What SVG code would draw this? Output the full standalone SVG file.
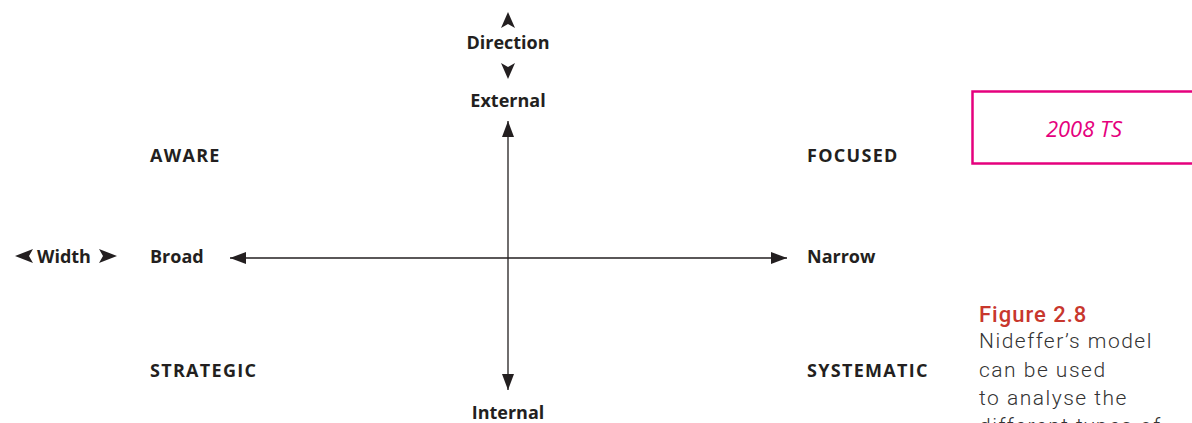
<svg xmlns="http://www.w3.org/2000/svg" width="1192" height="423" viewBox="0 0 1192 423">
<style>
.lbl{font-family:"Open Sans","Liberation Sans",sans-serif;font-weight:700;font-size:18px;fill:#231f20}
.caps{letter-spacing:1.3px}
.axis{stroke:#231f20;stroke-width:1.3;fill:none}
.head{fill:#231f20}
.cap{font-family:"Roboto","Liberation Sans",sans-serif;font-size:21px;font-weight:300;fill:#333;letter-spacing:1.5px}
</style>
<defs>
<marker id="ah" viewBox="0 0 16 12" refX="16" refY="6" markerWidth="16" markerHeight="12" markerUnits="userSpaceOnUse" orient="auto-start-reverse">
<path d="M0,0 L16,6 L0,12 Z" class="head"/>
</marker>
</defs>
<rect width="1192" height="423" fill="#fff"/>
<g id="connectors">
<line class="axis" x1="508" y1="121" x2="508" y2="390" marker-start="url(#ah)" marker-end="url(#ah)"/>
<line class="axis" x1="230" y1="258" x2="787" y2="258" marker-start="url(#ah)" marker-end="url(#ah)"/>
</g>
<g id="direction">
<path class="head" d="M508,12 L515,28 L508,24 L501,28 Z"/>
<text class="lbl" x="508" y="49" text-anchor="middle">Direction</text>
<path class="head" d="M508,79 L515,63 L508,67 L501,63 Z"/>
</g>
<g id="external"><text class="lbl" x="508" y="107" text-anchor="middle">External</text></g>
<g id="internal"><text class="lbl" x="508" y="419" text-anchor="middle">Internal</text></g>
<g id="width">
<path class="head" d="M15,256 L33,249 L29,256 L33,263 Z"/>
<text class="lbl" x="37" y="263">Width</text>
<path class="head" d="M117,256 L99,249 L103,256 L99,263 Z"/>
</g>
<g id="broad"><text class="lbl" x="150" y="263">Broad</text></g>
<g id="narrow"><text class="lbl" x="807" y="263">Narrow</text></g>
<g id="aware"><text class="lbl caps" x="150" y="162">AWARE</text></g>
<g id="focused"><text class="lbl caps" x="807" y="162">FOCUSED</text></g>
<g id="strategic"><text class="lbl caps" x="150" y="377">STRATEGIC</text></g>
<g id="systematic"><text class="lbl caps" x="807" y="377">SYSTEMATIC</text></g>
<g id="ts-box">
<rect x="972.5" y="91.5" width="240" height="72" fill="none" stroke="#e5007d" stroke-width="2.5"/>
<text x="1084" y="137" text-anchor="middle" font-family="'Open Sans','Liberation Sans',sans-serif" font-style="italic" font-size="22" fill="#e5007d">2008 TS</text>
</g>
<g id="caption">
<text x="979" y="322" font-family="Roboto,'Liberation Sans',sans-serif" font-size="22" font-weight="500" letter-spacing="1" fill="#c8372d">Figure 2.8</text>
<text class="cap" x="979" y="348">Nideffer’s model</text>
<text class="cap" x="979" y="377">can be used</text>
<text class="cap" x="979" y="405">to analyse the</text>
<text class="cap" x="979" y="433">different types of</text>
</g>
</svg>
